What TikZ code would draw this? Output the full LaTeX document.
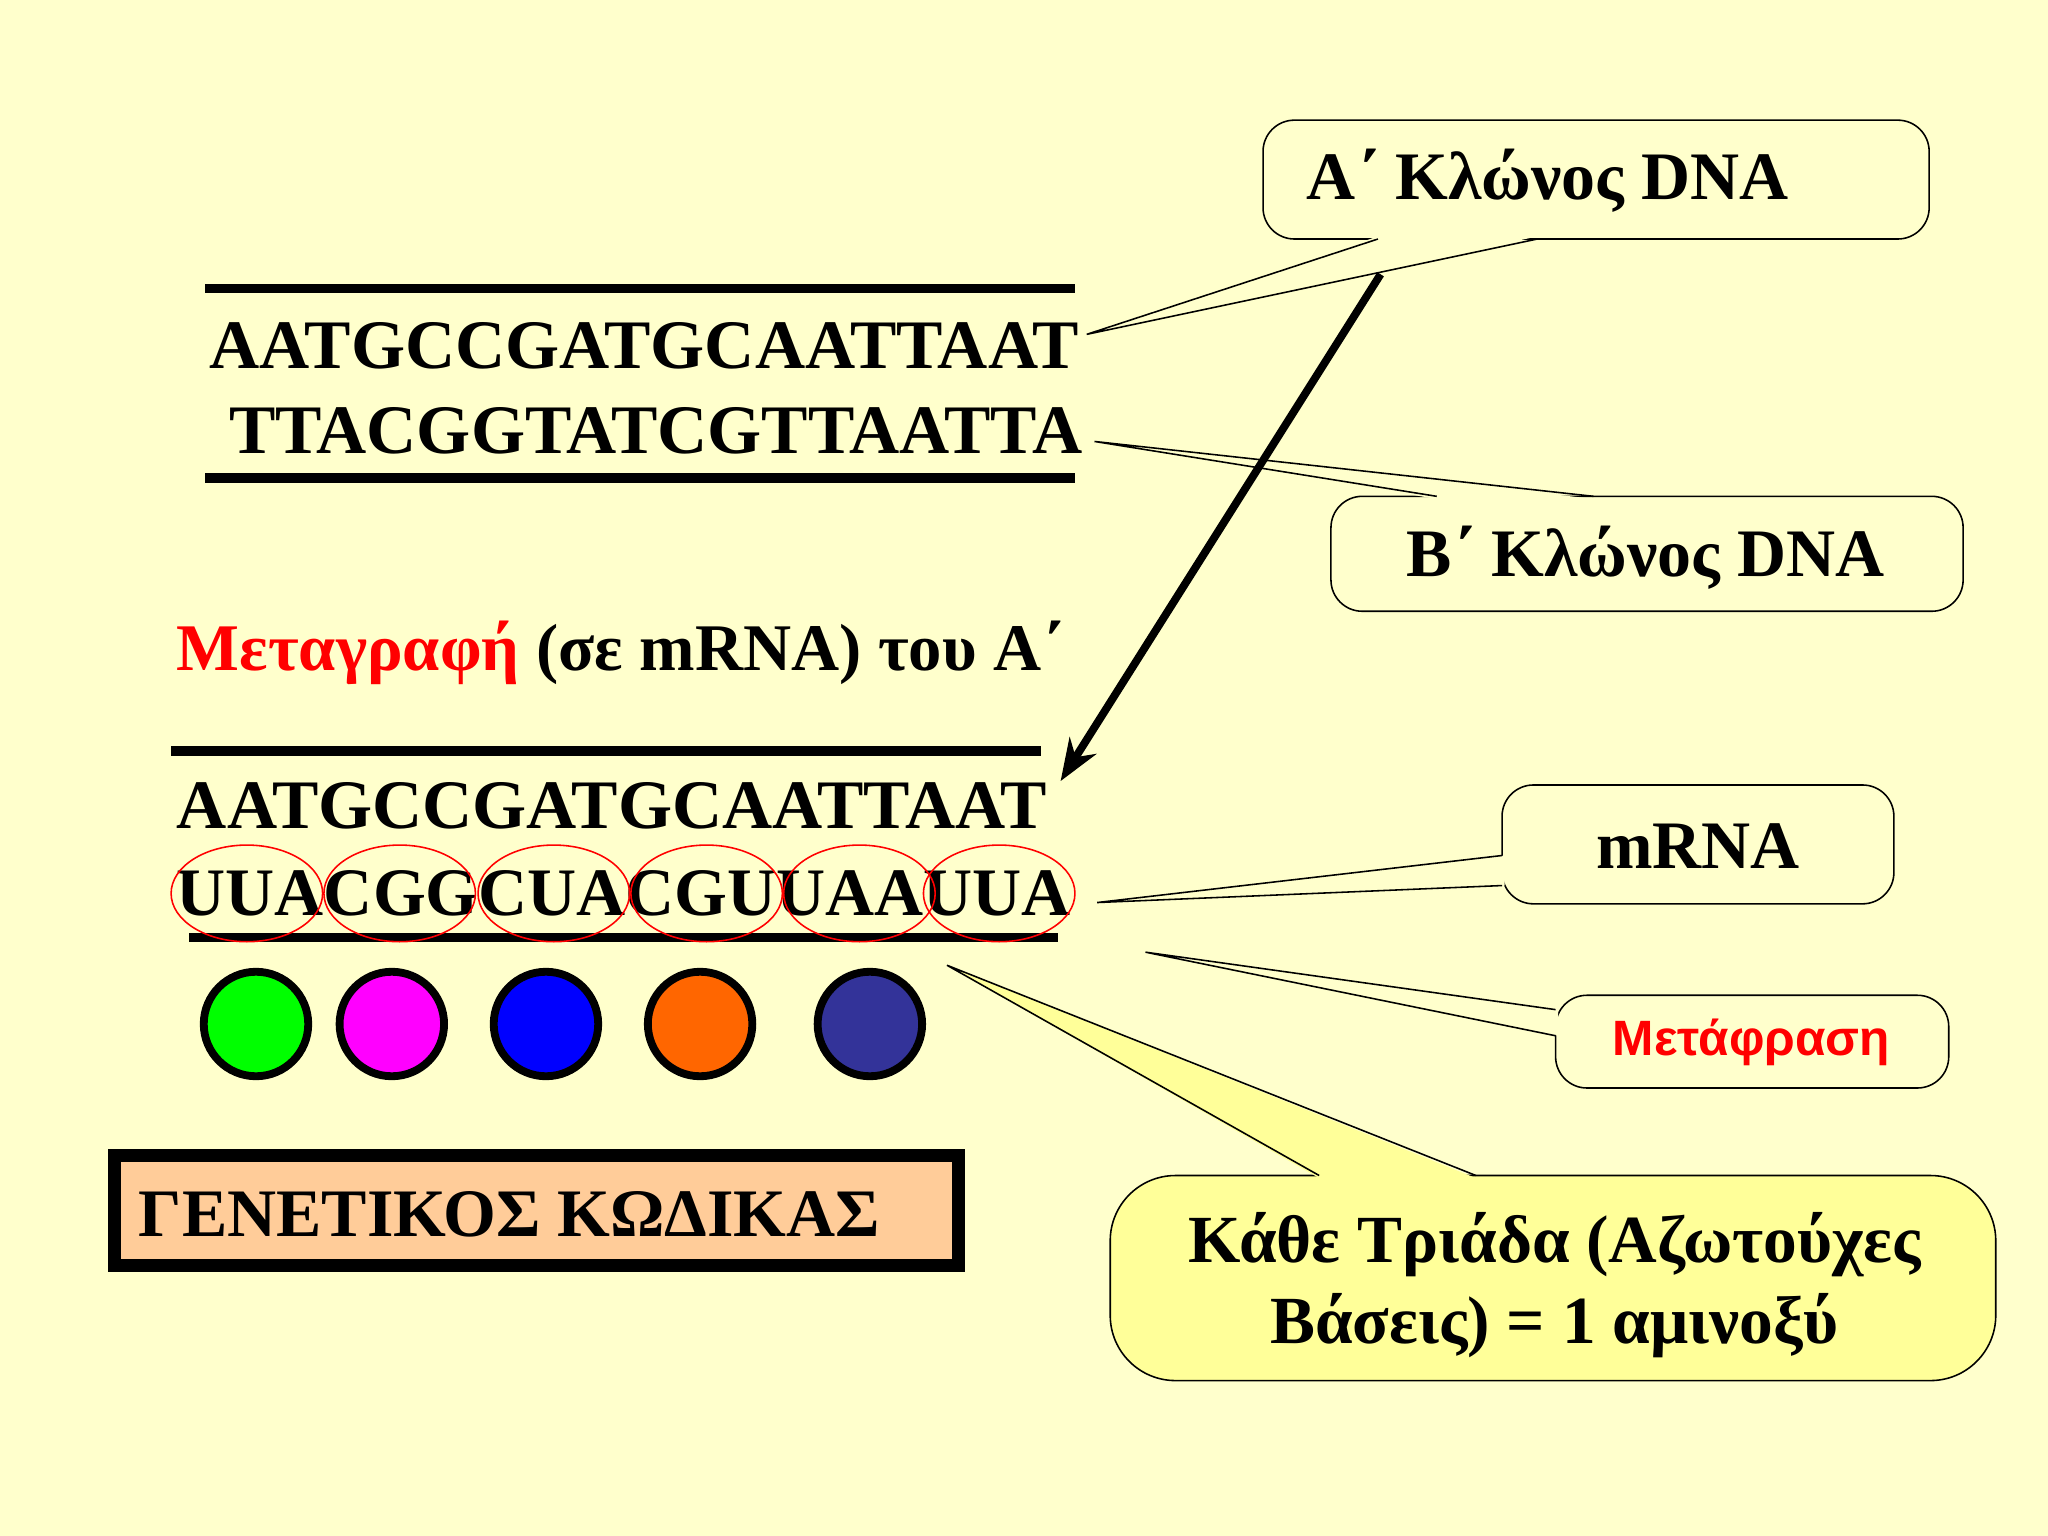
\documentclass[tikz,border=0pt]{standalone}
\usepackage{fontspec}
\usetikzlibrary{arrows.meta}
\setmainfont{Liberation Serif}
\newfontfamily\arialf{Liberation Sans}
\definecolor{bg}{HTML}{FFFFCC}
\definecolor{callY}{HTML}{FFFF99}
\definecolor{peach}{HTML}{FFCC99}
\begin{document}
\begin{tikzpicture}[x=0.5pt,y=-0.5pt,
  seq/.style={font=\bfseries\fontsize{26.6}{30}\selectfont,inner sep=0pt},
  ctxt/.style={font=\bfseries\fontsize{26}{30}\selectfont,inner sep=0pt},
  bar/.style={line width=3.5pt},
  cbox/.style={draw,rounded corners=12pt,line width=0.6pt},
  ball/.style={circle,draw,line width=3pt,minimum size=40pt,inner sep=0pt}]
\fill[bg] (0,0) rectangle (1568,1176);
\useasboundingbox (0,0) rectangle (1568,1176);
% DNA
\draw[bar] (157,221) -- (823,221);
\node[seq,anchor=west] (s1) at (160,265) {AATGCCGATGCAATTAAT};
\node[seq,anchor=west] (s2) at (175,330) {TTACGGTATCGTTAATTA};
\draw[bar] (157,366) -- (823,366);
% callout A
\draw[cbox,fill=bg] (967,92) rectangle (1477,183);
\node[ctxt] (ca) at (1185,138) {A΄ Κλώνος DNA};
\coordinate (ta) at (832,256);
\fill[bg] (1055,181) -- (ta) -- (1177,181) -- cycle;
\draw[line width=0.6pt] (1055,183) -- (ta) -- (1177,183);
% callout B
\draw[cbox,fill=bg] (1019,380) rectangle (1503,468);
\node[ctxt] (cb) at (1260,427) {B΄ Κλώνος DNA};
\coordinate (tb) at (838,338);
\fill[bg] (1100,382) -- (tb) -- (1220,382) -- cycle;
\draw[line width=0.6pt] (1100,380) -- (tb) -- (1220,380);
% title
\node[anchor=west,inner sep=0pt,font=\bfseries\fontsize{25.5}{28}\selectfont] (tr) at (135,500) {\textcolor{red}{Μεταγραφή} (σε mRNA) του A΄};
% arrow
\coordinate (a1) at (1057,210);
\coordinate (a2) at (812,598);
\draw[line width=3pt,-{Stealth[length=16pt,width=12pt]}] (a1) -- (a2);
% mRNA
\draw[bar] (131,575) -- (797,575);
\node[seq,anchor=west] (m1) at (135,617) {AATGCCGATGCAATTAAT};
\node[seq,anchor=west,font=\bfseries\fontsize{26}{30}\selectfont] (m2) at (135,684) {UUACGGCUACGUUAAUUA};
\draw[bar] (145,718) -- (810,718);
\foreach \x in {189,306,424,541,658,765}
  \draw[red,line width=0.6pt] (\x,684) ellipse [x radius=29pt,y radius=18.5pt];
% balls
\node[ball,fill={rgb,255:red,0;green,255;blue,0}] (b1) at (196,784) {};
\node[ball,fill={rgb,255:red,255;green,0;blue,255}] (b2) at (300,784) {};
\node[ball,fill={rgb,255:red,0;green,0;blue,255}] (b3) at (418,784) {};
\node[ball,fill={rgb,255:red,255;green,102;blue,0}] (b4) at (536,784) {};
\node[ball,fill={rgb,255:red,51;green,51;blue,153}] (b5) at (666,784) {};
% genetic code box
\draw[line width=5pt,fill=peach] (88,885) rectangle (734,969);
\node[anchor=west,inner sep=0pt,font=\bfseries\fontsize{26}{30}\selectfont] (gk) at (106,930) {ΓΕΝΕΤΙΚΟΣ ΚΩΔΙΚΑΣ};
% mRNA callout
\draw[cbox,fill=bg] (1150,601) rectangle (1450,692);
\node[ctxt] (cm) at (1300,648) {mRNA};
\coordinate (tm) at (840,691);
\fill[bg] (1152,655) -- (tm) -- (1152,678) -- cycle;
\draw[line width=0.6pt] (1150,655) -- (tm) -- (1150,678);
% translation callout
\draw[cbox,fill=bg] (1191,762) rectangle (1492,833);
\node[inner sep=0pt,text=red,font=\arialf\bfseries\fontsize{19}{22}\selectfont] (ct) at (1341,798) {Μετάφραση};
\coordinate (tt) at (877,729);
\fill[bg] (1193,773) -- (tt) -- (1193,793) -- cycle;
\draw[line width=0.6pt] (1191,773) -- (tt) -- (1191,793);
% yellow callout
\draw[cbox,rounded corners=25pt,fill=callY] (850,900) rectangle (1528,1057);
\node[align=center,inner sep=0pt,font=\bfseries\fontsize{25.8}{31}\selectfont] (cy) at (1190,984) {Κάθε Τριάδα (Αζωτούχες\\Βάσεις) = 1 αμινοξύ};
\coordinate (ty) at (725,739);
\fill[callY] (1010,902) -- (ty) -- (1130,902) -- cycle;
\draw[line width=0.6pt] (1010,900) -- (ty) -- (1130,900);
\end{tikzpicture}
\end{document}
